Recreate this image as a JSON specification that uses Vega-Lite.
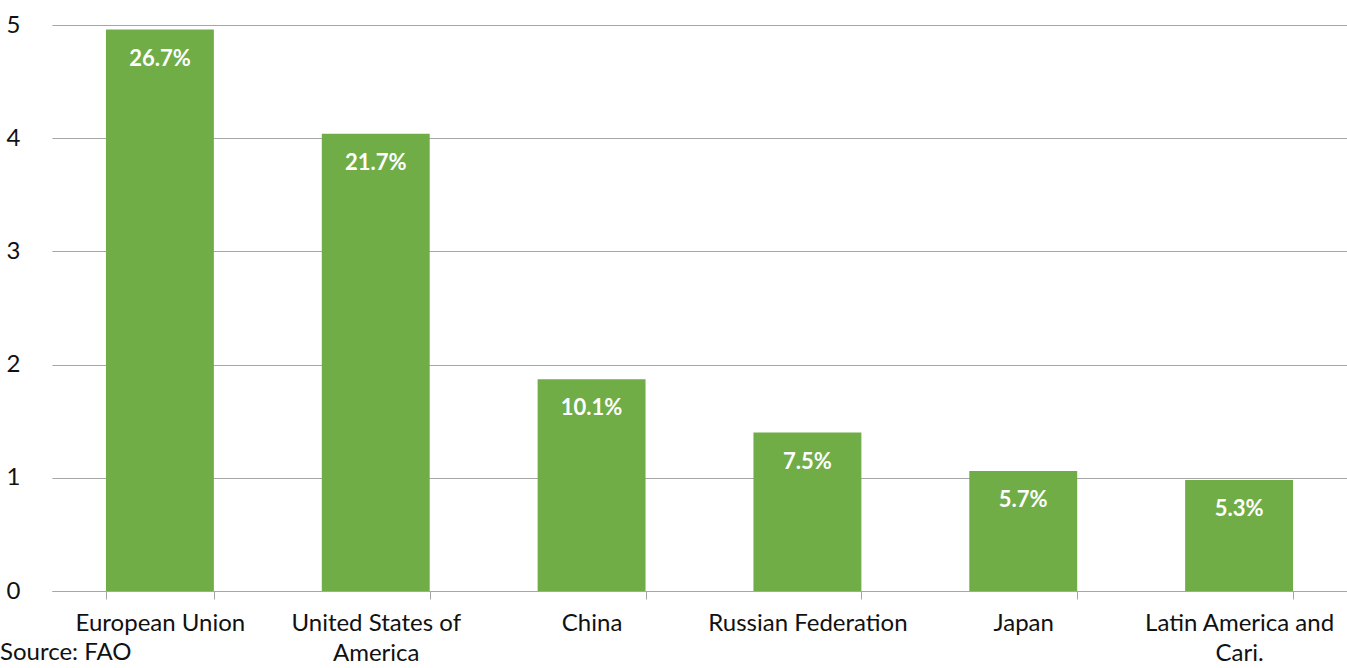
{
  "$schema": "https://vega.github.io/schema/vega-lite/v6.json",
  "autosize": {"type": "none"},
  "width": 1295,
  "height": 566,
  "padding": {"left": 52, "top": 25, "right": 0, "bottom": 77},
  "background": "white",
  "config": {
    "view": {"stroke": null},
    "font": "Lato"
  },
  "title": {
    "text": "Source: FAO",
    "orient": "bottom",
    "anchor": "start",
    "frame": "group",
    "dx": -52,
    "offset": -24,
    "font": "Lato",
    "fontSize": 24,
    "fontWeight": "normal",
    "color": "#111111"
  },
  "data": {
    "values": [
      {"region": "European Union", "value": 4.96, "share": "26.7%"},
      {"region": "United States of America", "value": 4.04, "share": "21.7%"},
      {"region": "China", "value": 1.87, "share": "10.1%"},
      {"region": "Russian Federation", "value": 1.40, "share": "7.5%"},
      {"region": "Japan", "value": 1.06, "share": "5.7%"},
      {"region": "Latin America and Cari.", "value": 0.98, "share": "5.3%"}
    ]
  },
  "encoding": {
    "x": {
      "field": "region",
      "type": "nominal",
      "sort": null,
      "scale": {"paddingInner": 0.5, "paddingOuter": 0.25},
      "axis": {
        "title": null,
        "labelAngle": 0,
        "labelFontSize": 24,
        "labelColor": "#111111",
        "labelPadding": 12,
        "labelLineHeight": 30,
        "labelBaseline": "top",
        "labelLimit": 0,
        "labelOverlap": false,
        "labelExpr": "datum.label == 'United States of America' ? ['United States of', 'America'] : datum.label == 'Latin America and Cari.' ? ['Latin America and', 'Cari.'] : datum.label",
        "domainColor": "#a6a6a6",
        "domainWidth": 1,
        "tickColor": "#a6a6a6",
        "tickSize": 8,
        "tickBand": "extent",
        "grid": false
      }
    },
    "y": {
      "field": "value",
      "type": "quantitative",
      "scale": {"domain": [0, 5]},
      "axis": {
        "title": null,
        "values": [0, 1, 2, 3, 4, 5],
        "format": "d",
        "domain": false,
        "ticks": false,
        "labelPadding": 32,
        "labelFontSize": 24,
        "labelColor": "#111111",
        "gridColor": "#a6a6a6",
        "gridWidth": 1.2
      }
    }
  },
  "layer": [
    {"mark": {"type": "bar", "color": "#70ad47"}},
    {
      "mark": {"type": "text", "color": "white", "font": "Lato", "fontSize": 22, "fontWeight": "bold", "baseline": "middle", "dy": 29},
      "encoding": {"text": {"field": "share"}}
    }
  ]
}
